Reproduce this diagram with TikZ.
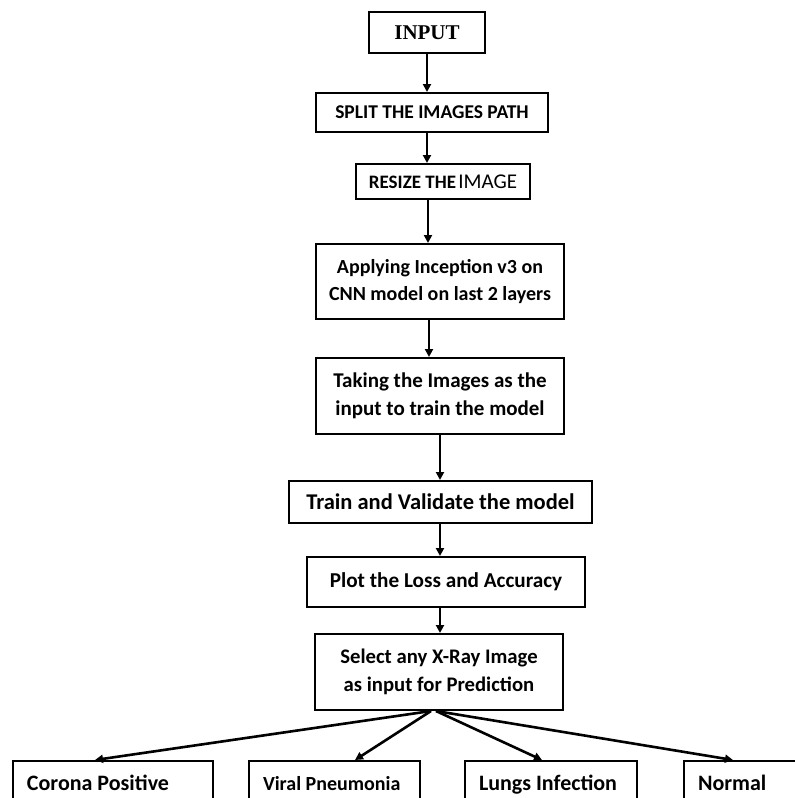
\documentclass[tikz,border=0pt]{standalone}
\usepackage{fontspec}
\setmainfont{Carlito}
\newfontfamily\inputfont{Liberation Serif}
\usetikzlibrary{arrows.meta}
\tikzset{
  box/.style={draw=black, line width=2pt, fill=white, inner sep=0pt, align=center, text=black},
  outbox/.style={draw=black, line width=2pt, fill=white, anchor=north west, align=flush left,
     inner xsep=14pt, inner ysep=13pt, text height=16pt, text depth=40pt},
  arr/.style={line width=2.4pt, -{Triangle[length=8pt,width=8pt]}},
  fanarr/.style={line width=2.6pt, -{Triangle[length=8pt,width=8pt]}}
}
\begin{document}
\begin{tikzpicture}[x=1pt,y=-1pt]
\path[use as bounding box] (0,0) rectangle (795,798);
\clip (0,0) rectangle (795,798);
\fill[white] (0,0) rectangle (795,798);

\node[box, minimum width=116pt, minimum height=41pt, font={\inputfont\fontsize{21}{24}\selectfont\bfseries}] (input) at (427,32.5)
  {INPUT};
\node[box, minimum width=232pt, minimum height=39pt, font={\fontsize{19.5}{22}\selectfont\bfseries}] (split) at (432,112.5)
  {SPLIT THE IMAGES PATH};
\node[box, minimum width=174pt, minimum height=35pt] (resize) at (443,181.5)
  {{\fontsize{19}{22}\selectfont\bfseries RESIZE THE} {\fontsize{21}{22}\selectfont IMAGE}};
\node[box, minimum width=248pt, minimum height=75pt, font={\fontsize{20}{27}\selectfont\bfseries}] (apply) at (440,281.5)
  {Applying Inception v3 on\\CNN model on last 2 layers};
\node[box, minimum width=248pt, minimum height=76pt, font={\fontsize{21}{28}\selectfont\bfseries}] (taking) at (440,396)
  {Taking the Images as the\\input to train the model};
\node[box, minimum width=303pt, minimum height=42pt, font={\fontsize{22.5}{26}\selectfont\bfseries}] (train) at (440.5,502)
  {Train and Validate the model};
\node[box, minimum width=278pt, minimum height=50pt, font={\fontsize{21.2}{26}\selectfont\bfseries}] (plot) at (446,582)
  {Plot the Loss and Accuracy};
\node[box, minimum width=248pt, minimum height=76pt, font={\fontsize{20.7}{28}\selectfont\bfseries}] (select) at (439,672)
  {Select any X-Ray Image\\as input for Prediction};

\node[outbox, text width=172pt, font={\fontsize{22}{26}\selectfont\bfseries}] (corona) at (12,760)
  {Corona Positive};
\node[outbox, text width=143pt, font={\fontsize{20}{26}\selectfont\bfseries}] (viral) at (248,760)
  {Viral Pneumonia};
\node[outbox, text width=144pt, font={\fontsize{22}{26}\selectfont\bfseries}] (lungs) at (464,760)
  {Lungs Infection};
\node[outbox, text width=140pt, font={\fontsize{22}{26}\selectfont\bfseries}] (normal) at (683,760)
  {Normal};

\draw[arr] (input.south) -- (input.south |- split.north);
\draw[arr] (input.south |- split.south) -- (input.south |- resize.north);
\draw[arr] ([xshift=1pt]input.south |- resize.south) -- ([xshift=1pt]input.south |- apply.north);
\draw[arr] ([xshift=2pt]input.south |- apply.south) -- ([xshift=2pt]input.south |- taking.north);
\draw[arr] (taking.south) -- (taking.south |- train.north);
\draw[arr] (taking.south |- train.south) -- (taking.south |- plot.north);
\draw[arr] (taking.south |- plot.south) -- (taking.south |- select.north);

\coordinate (fanl) at ([xshift=-8pt]select.south);
\coordinate (fanr) at ([xshift=-3pt]select.south);
\draw[fanarr] (fanl) -- ([xshift=83pt]corona.north west);
\draw[fanarr] (fanl) -- ([xshift=107pt]viral.north west);
\draw[fanarr] (fanr) -- ([xshift=78pt]lungs.north west);
\draw[fanarr] (fanr) -- ([xshift=50pt]normal.north west);
\end{tikzpicture}
\end{document}
